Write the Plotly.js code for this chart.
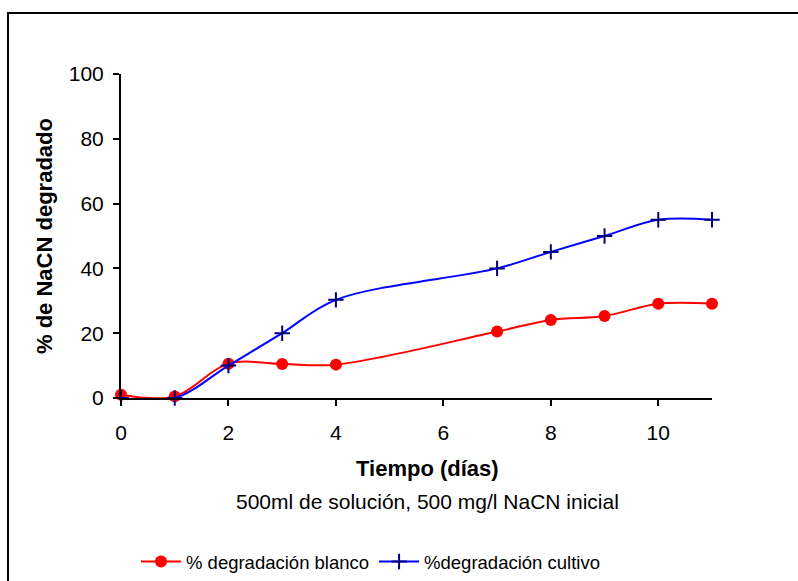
<!DOCTYPE html>
<html>
<head>
<meta charset="utf-8">
<script src="https://cdn.plot.ly/plotly-3.0.1.min.js"></script>
<style>
  html, body { margin: 0; padding: 0; background: #fff; }
  #chart { width: 798px; height: 581px; }
</style>
</head>
<body>
<div id="chart"></div>
<script>
// Días de muestreo
const dias = [0, 1, 2, 3, 4, 7, 8, 9, 10, 11];
// % de NaCN degradado, ensayo blanco
const blanco = [1, 0.5, 10.6, 10.5, 10.3, 20.5, 24.1, 25.3, 29.1, 29.1];
// % de NaCN degradado, ensayo con cultivo
const cultivo = [0, 0, 10, 20, 30.3, 40, 45.1, 50, 55, 55];

const nombreBlanco = '% degradación blanco';
const nombreCultivo = '%degradación cultivo';
const tituloX = 'Tiempo (días)';
const subtituloX = '500ml de solución, 500 mg/l NaCN inicial';
const tituloY = '% de NaCN degradado';

const FONT = 'Liberation Sans, Arial, sans-serif';

const traces = [
  {
    x: dias, y: blanco, name: nombreBlanco,
    type: 'scatter', mode: 'lines+markers',
    line: { color: '#ff0000', width: 2, shape: 'spline', smoothing: 1 },
    marker: { symbol: 'circle', size: 12, color: '#ff0000' },
    cliponaxis: false
  },
  {
    x: dias, y: cultivo, name: nombreCultivo,
    type: 'scatter', mode: 'lines+markers',
    line: { color: '#0000ff', width: 2, shape: 'spline', smoothing: 1 },
    marker: { symbol: 'cross-thin', size: 11, color: '#000080',
              line: { color: '#000080', width: 2 } },
    cliponaxis: false
  }
];

// Área de trazado: x 121..712, y 74..398 (px)
const L = 121, R = 712, T = 74, B = 398, W = 798, H = 581;
const pw = R - L, ph = B - T;
const px = v => (v - L) / pw;
const py = v => (B - v) / ph;

const layout = {
  width: W, height: H,
  margin: { l: L, r: W - R, t: T, b: H - B, pad: 0, autoexpand: false },
  paper_bgcolor: '#ffffff',
  plot_bgcolor: '#ffffff',
  font: { family: FONT, size: 18, color: '#000000' },
  showlegend: true,
  legend: {
    orientation: 'h',
    x: 136 / W, xanchor: 'left', xref: 'container',
    y: 1 - 562 / H, yanchor: 'middle', yref: 'container',
    font: { family: FONT, size: 18.5, color: '#000' },
    itemwidth: 40,
    tracegroupgap: 0
  },
  xaxis: {
    range: [0, 11],
    tickvals: [0, 2, 4, 6, 8, 10],
    ticks: 'outside', ticklen: 6, tickwidth: 2, tickcolor: '#000',
    ticklabelstandoff: 9,
    showline: true, linecolor: '#000', linewidth: 2,
    showgrid: false, zeroline: false,
    tickfont: { family: FONT, size: 21, color: '#000' }
  },
  yaxis: {
    range: [0, 100],
    tickvals: [0, 20, 40, 60, 80, 100],
    ticks: 'outside', ticklen: 6, tickwidth: 2, tickcolor: '#000',
    ticklabelstandoff: 5,
    showline: true, linecolor: '#000', linewidth: 2,
    showgrid: false, zeroline: false,
    tickfont: { family: FONT, size: 21, color: '#000' }
  },
  annotations: [
    {
      text: '<b>' + tituloX + '</b>', xref: 'paper', yref: 'paper',
      x: px(427), y: py(468), xanchor: 'center', yanchor: 'middle',
      showarrow: false, font: { family: FONT, size: 22, color: '#000' }
    },
    {
      text: subtituloX, xref: 'paper', yref: 'paper',
      x: px(427), y: py(501), xanchor: 'center', yanchor: 'middle',
      showarrow: false, font: { family: FONT, size: 21, color: '#000' }
    },
    {
      text: '<b>' + tituloY + '</b>', xref: 'paper', yref: 'paper',
      x: px(44), y: py(236), xanchor: 'center', yanchor: 'middle',
      textangle: -90,
      showarrow: false, font: { family: FONT, size: 22, color: '#000' }
    }
  ],
  shapes: [
    {
      type: 'rect', xref: 'paper', yref: 'paper',
      x0: px(8), x1: px(805), y0: py(590), y1: py(13),
      line: { color: '#000', width: 2 }, fillcolor: 'rgba(0,0,0,0)',
      layer: 'below'
    }
  ]
};

Plotly.newPlot('chart', traces, layout, { displayModeBar: false, staticPlot: true });
</script>
</body>
</html>
